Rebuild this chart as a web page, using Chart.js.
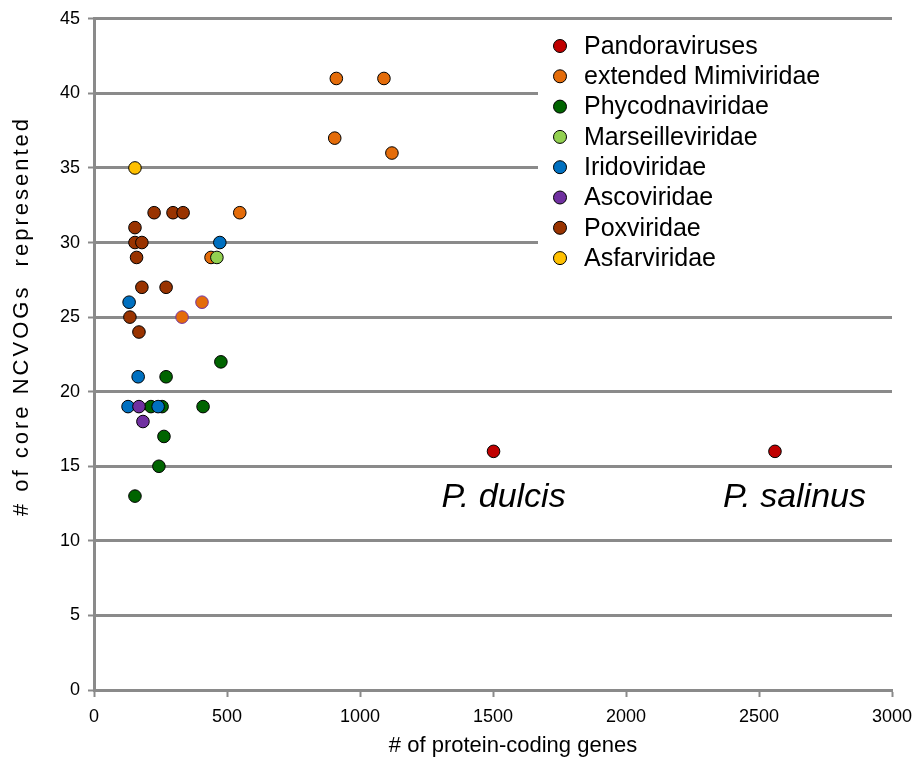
<!DOCTYPE html>
<html>
<head>
<meta charset="utf-8">
<script src="https://cdn.jsdelivr.net/npm/chart.js@4.4.1/dist/chart.umd.min.js"></script>
<style>
  body { margin: 0; background: #fff; }
  #wrap { width: 919px; height: 761px; }
</style>
</head>
<body>
<div id="wrap"><canvas id="monGraphique" width="919" height="761"></canvas></div>
<script>
// Series: [protein-coding genes, core NCVOGs]
const families = ['Pandoraviruses', 'extended Mimiviridae', 'Phycodnaviridae', 'Marseilleviridae',
    'Iridoviridae', 'Ascoviridae', 'Poxviridae', 'Asfarviridae'];
const pandoraviruses = [[1502, 16], [2560, 16]];
const mimiviridae = [[911, 41], [1090, 41], [905, 37], [1120, 36], [548, 32], [440, 29], [331, 25], [406, 26]];
const phycodnaviridae = [[477, 22], [271, 21], [214, 19], [256, 19], [410, 19], [263, 17], [244, 15], [154, 13]];
const marseilleviridae = [[462, 29]];
const iridoviridae = [[473, 30], [132, 26], [166, 21], [128, 19], [241, 19]];
const ascoviridae = [[169, 19], [184, 18]];
const poxviridae = [[226, 32], [297, 32], [335, 32], [154, 31], [154, 30], [180, 30], [160, 29],
    [180, 27], [271, 27], [135, 25], [169, 24]];
const asfarviridae = [[154, 35]];
const xTicks = [0, 500, 1000, 1500, 2000, 2500, 3000];
const yTicks = [0, 5, 10, 15, 20, 25, 30, 35, 40, 45];
const annotations = [{ text: 'P. dulcis', at: [1502, 16] }, { text: 'P. salinus', at: [2560, 16] }];
const xTitle = '# of protein-coding genes';
const yTitle = '# of core NCVOGs  represented';

const seriesData = [pandoraviruses, mimiviridae, phycodnaviridae, marseilleviridae,
    iridoviridae, ascoviridae, poxviridae, asfarviridae];
const colors = ['#C00000', '#E46C0A', '#006400', '#92D050', '#0070C0', '#7030A0', '#993300', '#FFC000'];
const GRID = '#8a8a8a';
const FONT = '"Liberation Sans", Arial, sans-serif';

/**
 * Legend box (covers the gridlines), axis titles and the italic species labels
 */
const decorPlugin = {
    id: 'decor',
    beforeDatasetsDraw: (chart) => {
        const { ctx, chartArea } = chart;
        ctx.save();
        ctx.fillStyle = '#ffffff';
        ctx.fillRect(538, 24, chartArea.right - 538 + 4, 252);
        ctx.restore();
    },
    afterDatasetsDraw: (chart) => {
        const { ctx, scales: { x, y } } = chart;
        ctx.save();
        ctx.textBaseline = 'middle';
        ctx.font = '25px ' + FONT;
        chart.data.datasets.forEach((ds, i) => {
            const cy = 46 + i * 30.3;
            ctx.beginPath();
            ctx.arc(560, cy, 6.5, 0, Math.PI * 2);
            ctx.fillStyle = ds.backgroundColor;
            ctx.fill();
            ctx.lineWidth = 1;
            ctx.strokeStyle = '#000';
            ctx.stroke();
            ctx.fillStyle = '#000';
            ctx.fillText(ds.label, 584, cy + 1);
        });

        // species labels, left edge sits ~50px left of the point
        ctx.font = 'italic 34px ' + FONT;
        ctx.textAlign = 'left';
        ctx.textBaseline = 'alphabetic';
        annotations.forEach((a) => {
            ctx.fillText(a.text, x.getPixelForValue(a.at[0]) - 52, y.getPixelForValue(a.at[1]) + 56);
        });

        // x-axis title (sits a bit right of centre in the original)
        ctx.font = '22px ' + FONT;
        ctx.textAlign = 'center';
        ctx.textBaseline = 'middle';
        ctx.fillText(xTitle, 513, 746);

        // rotated y-axis title
        ctx.translate(22, 316);
        ctx.rotate(-Math.PI / 2);
        ctx.letterSpacing = '3px';
        ctx.fillText(yTitle, 0, 0);
        ctx.restore();
    }
};

const purpleRimmed = [6, 7];

new Chart(document.getElementById('monGraphique').getContext('2d'), {
    type: 'scatter',
    data: {
        datasets: seriesData.map((pts, i) => ({
            label: families[i],
            data: pts.map(([gx, gy]) => ({ x: gx, y: gy })),
            backgroundColor: colors[i],
            pointBorderColor: (c) => (i === 1 && purpleRimmed.includes(c.dataIndex)) ? '#7030A0' : '#000000',
            pointBorderWidth: 1,
            pointRadius: 6.3,
            order: seriesData.length - i
        }))
    },
    options: {
        responsive: false,
        animation: false,
        events: [],
        layout: { padding: { left: 0, right: 27, top: 15, bottom: 0 } },
        plugins: { legend: { display: false }, tooltip: { enabled: false } },
        scales: {
            x: {
                type: 'linear',
                min: 0, max: 3000,
                afterBuildTicks: (s) => { s.ticks = xTicks.map(v => ({ value: v })); },
                afterFit: (s) => { s.height = 71; s.paddingLeft = 0; s.paddingRight = 0; },
                grid: { drawOnChartArea: false, drawTicks: true, tickLength: 7, tickWidth: 2, tickColor: GRID },
                border: { color: GRID, width: 3 },
                ticks: { color: '#000', font: { family: FONT, size: 18 }, padding: 9, maxRotation: 0,
                    callback: (v) => String(v) }
            },
            y: {
                type: 'linear',
                min: 0, max: 45,
                afterBuildTicks: (s) => { s.ticks = yTicks.map(v => ({ value: v })); },
                afterFit: (s) => { s.width = 94; },
                grid: { color: GRID, lineWidth: 3, tickLength: 6, tickWidth: 2, tickColor: GRID },
                border: { color: GRID, width: 3 },
                ticks: { color: '#000', font: { family: FONT, size: 18 }, padding: 8,
                    callback: (v) => String(v) }
            }
        }
    },
    plugins: [decorPlugin]
});
</script>
</body>
</html>
